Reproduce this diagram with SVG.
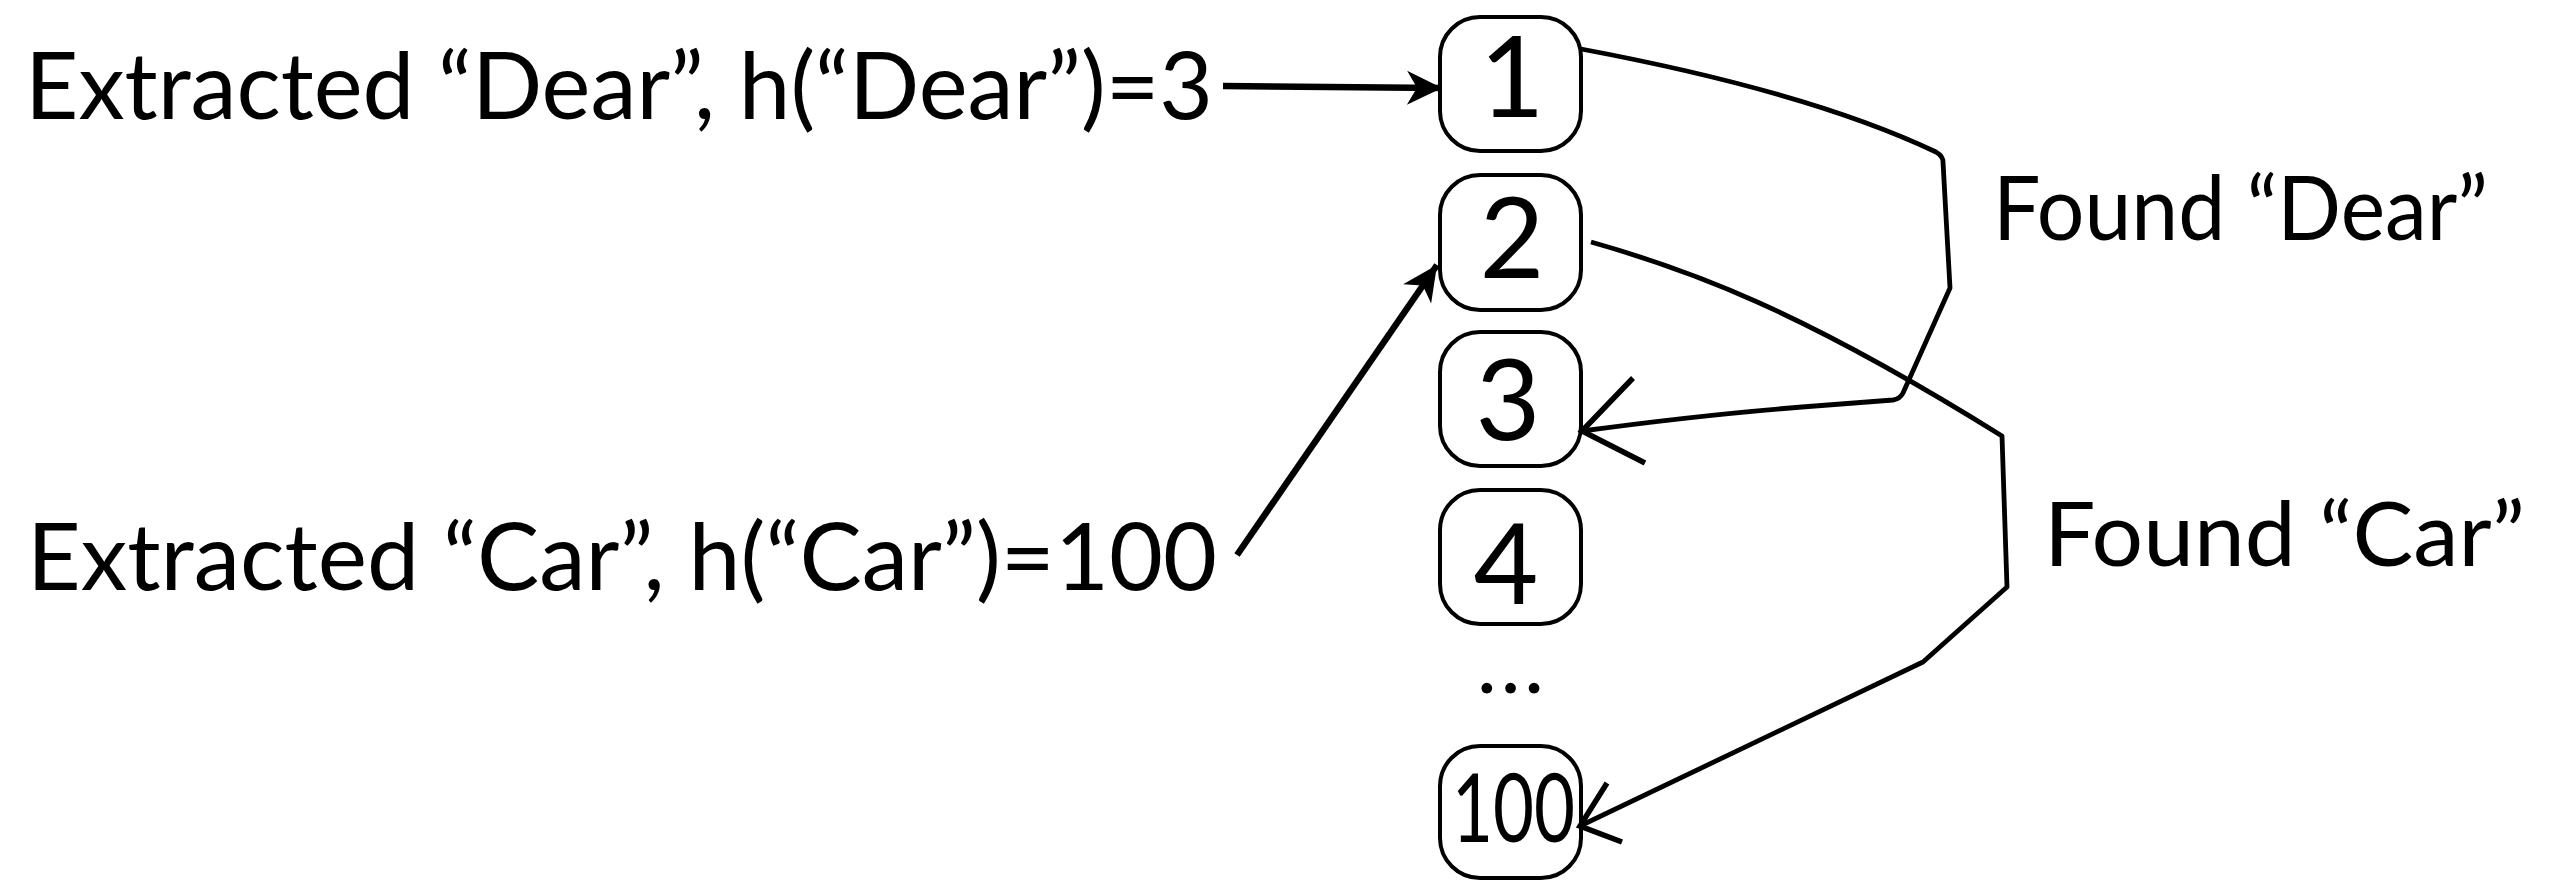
<svg xmlns="http://www.w3.org/2000/svg" width="2558" height="882" viewBox="0 0 2558 882">
  <style>
    .label { font-family: Lato, "Open Sans", "Liberation Sans", sans-serif; fill: #000; }
    .slot rect { fill: #fff; stroke: #000; stroke-width: 4; }
    .digit { font-family: Lato, "Open Sans", "Liberation Sans", sans-serif; font-size: 112px; text-anchor: middle; fill: #000; }
    .dots { font-family: Lato, "Open Sans", "Liberation Sans", sans-serif; font-size: 70px; font-weight: bold; letter-spacing: 7px; text-anchor: middle; fill: #000; }
    .feed { fill: none; stroke: #000; stroke-width: 6.5; }
    .probe { fill: none; stroke: #000; stroke-width: 4.8; stroke-linejoin: round; stroke-linecap: butt; }
    .barb { fill: none; stroke: #000; stroke-width: 5.5; stroke-linecap: butt; }
  </style>
  <defs>
    <marker id="stealth" markerUnits="userSpaceOnUse" viewBox="-36 -18 38 36" refX="0" refY="0" markerWidth="38" markerHeight="36" orient="auto">
      <path d="M0,0 L-35,-17 L-25,0 L-35,17 Z" fill="#000"/>
    </marker>
  </defs>

  <!-- input labels -->
  <text id="label-dear" class="label" x="25" y="119" font-size="93" textLength="1188" lengthAdjust="spacingAndGlyphs">Extracted “Dear”, h(“Dear”)=3</text>
  <text id="label-car" class="label" x="27" y="590" font-size="93" textLength="1190" lengthAdjust="spacingAndGlyphs">Extracted “Car”, h(“Car”)=100</text>

  <!-- table slots -->
  <g id="slot-1" class="slot">
    <rect x="1440" y="17" width="141" height="134" rx="40" ry="40"/>
    <text class="digit" x="1512" y="117">1</text>
  </g>
  <g id="slot-2" class="slot">
    <rect x="1440" y="175" width="141" height="135" rx="40" ry="40"/>
    <text class="digit" x="1512" y="278">2</text>
  </g>
  <g id="slot-3" class="slot">
    <rect x="1440" y="332" width="141" height="134" rx="40" ry="40"/>
    <text class="digit" x="1508" y="440">3</text>
  </g>
  <g id="slot-4" class="slot">
    <rect x="1440" y="490" width="141" height="134" rx="40" ry="40"/>
    <text class="digit" x="1506" y="604">4</text>
  </g>
  <g id="ellipsis">
    <text class="dots" x="1514" y="693">...</text>
  </g>
  <g id="slot-100" class="slot">
    <rect x="1440" y="746" width="141" height="132" rx="40" ry="40"/>
    <text class="label" x="1452" y="842" font-size="95" textLength="123" lengthAdjust="spacingAndGlyphs">100</text>
  </g>

  <!-- lookup result labels -->
  <text id="found-dear" class="label" x="1993" y="240" font-size="90" textLength="495" lengthAdjust="spacingAndGlyphs">Found “Dear”</text>
  <text id="found-car" class="label" x="2044" y="566" font-size="90" textLength="481" lengthAdjust="spacingAndGlyphs">Found “Car”</text>

  <!-- connectors -->
  <g id="connectors">
    <path class="feed" d="M1223,86 L1442,88" marker-end="url(#stealth)"/>
    <path class="feed" d="M1237,555 L1437,265" marker-end="url(#stealth)"/>

    <path class="probe" d="M1581,49 Q1810,92 1936,152 Q1943,156 1943,162 L1950,288 L1903,393 Q1900,399 1893,400 L1802,407 Q1700,415 1582,431"/>
    <path class="barb" d="M1633,378 L1582,431 L1645,463"/>

    <path class="probe" d="M1591,242 C1690,270 1800,310 2002,436 L2007,587 L1923,662 L1580,826"/>
    <path class="barb" d="M1607,783 L1580,826 L1622,842"/>
  </g>
</svg>
